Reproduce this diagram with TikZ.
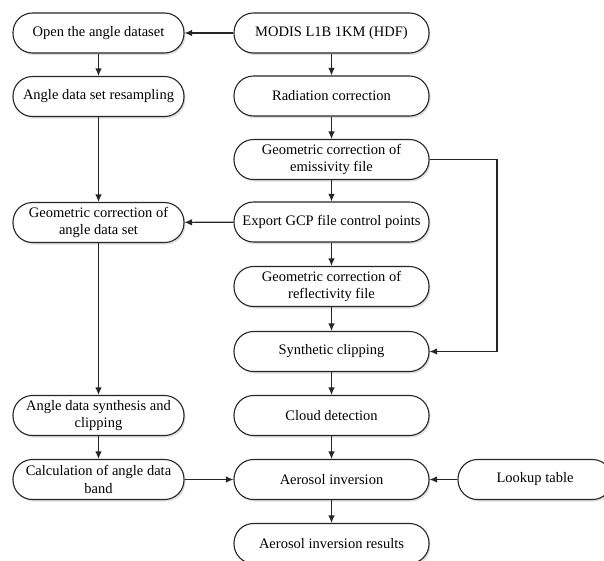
\documentclass[tikz,border=0pt]{standalone}
\usepackage{fontspec}
\setmainfont{Liberation Serif}
\usetikzlibrary{arrows.meta,shadows}
\begin{document}
\begin{tikzpicture}[x=1pt,y=1pt,
  box/.style={draw=black!85, line width=1.1pt, rounded corners=19.5pt, fill=white,
    minimum height=40pt, inner sep=0pt, align=center,
    font=\fontsize{14.5}{17.5}\selectfont,
    drop shadow={opacity=0.25, shadow xshift=1.5pt, shadow yshift=-2pt}},
  lbox/.style={box, minimum width=171pt},
  mbox/.style={box, minimum width=195pt},
  arr/.style={draw=black!85, line width=1.1pt, -{Latex[length=7.5pt,width=6.5pt]}},
  ln/.style={draw=black!85, line width=1.1pt}]
\clip (0,0) rectangle (604,-560);
\fill[white] (0,0) rectangle (604,-560);
% left column
\node[lbox] (open) at (98.5,-33) {Open the angle dataset};
\node[lbox] (resamp) at (98.5,-96.5) {Angle data set resampling};
\node[lbox] (ageo) at (98.5,-222.5) {Geometric correction of\\angle data set};
\node[lbox] (asyn) at (98.5,-415.5) {Angle data synthesis and\\clipping};
\node[lbox] (calc) at (98.5,-479.5) {Calculation of angle data\\band};
% middle column
\node[mbox] (modis) at (331.5,-33) {MODIS L1B 1KM (HDF)};
\node[mbox] (rad) at (331.5,-96) {Radiation correction};
\node[mbox] (emis) at (331.5,-159.5) {Geometric correction of\\emissivity file};
\node[mbox] (gcp) at (331.5,-222) {Export GCP file control points};
\node[mbox] (refl) at (331.5,-286.5) {Geometric correction of\\reflectivity file};
\node[mbox] (syn) at (331.5,-351.5) {Synthetic clipping};
\node[mbox] (cloud) at (331.5,-415.5) {Cloud detection};
\node[mbox] (aer) at (331.5,-479.5) {Aerosol inversion};
\node[mbox] (res) at (331.5,-543.5) {Aerosol inversion results};
% right
\node[box, minimum width=154pt] (look) at (535,-479.5) {Lookup table};
% connectors
\draw[arr] (modis) -- (open);
\draw[arr] (open) -- (resamp);
\draw[arr] (resamp) -- (ageo);
\draw[arr] (ageo) -- (asyn);
\draw[arr] (asyn) -- (calc);
\draw[arr] (calc) -- (aer);
\draw[arr] (modis) -- (rad);
\draw[arr] (rad) -- (emis);
\draw[arr] (emis) -- (gcp);
\draw[arr] (gcp) -- (refl);
\draw[arr] (refl) -- (syn);
\draw[arr] (syn) -- (cloud);
\draw[arr] (cloud) -- (aer);
\draw[arr] (aer) -- (res);
\draw[arr] (gcp) -- (ageo);
\draw[arr] (look) -- (aer);
\coordinate (rt) at (497,-159.5);
\coordinate (rb) at (497,-351.5);
\draw[arr] (emis.east) -- (rt) -- (rb) -- (syn.east);
\end{tikzpicture}
\end{document}
